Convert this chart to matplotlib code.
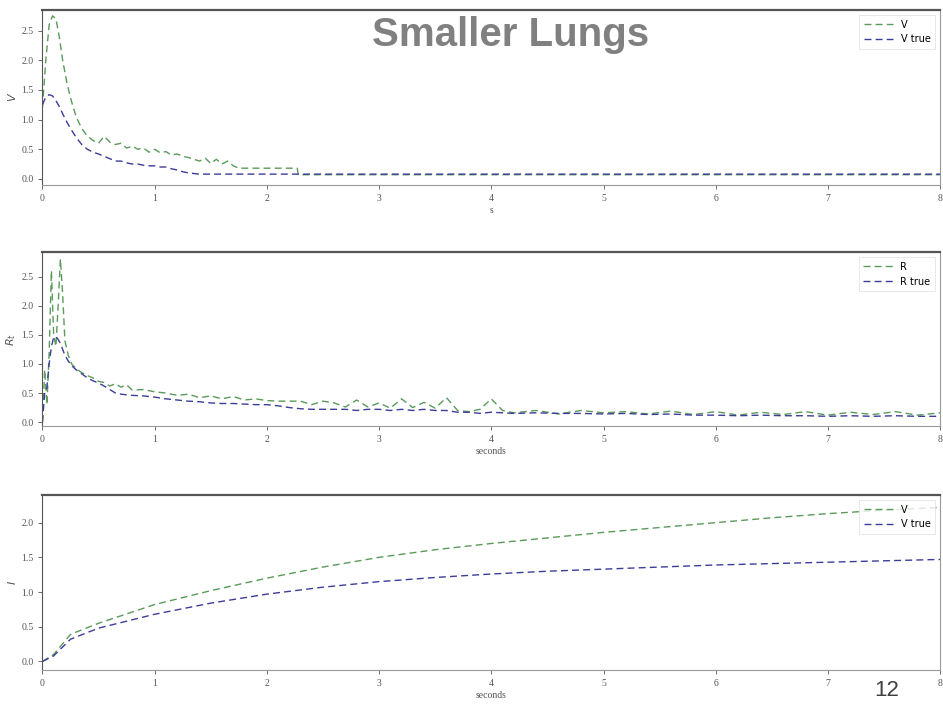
import numpy as np
import matplotlib.pyplot as plt

# panel 1 : V
t1 = [0, 0.03, 0.06, 0.09, 0.12, 0.15, 0.18, 0.22, 0.26, 0.3,
      0.35, 0.4, 0.45, 0.5, 0.55, 0.6, 0.65, 0.7, 0.75, 0.8,
      0.85, 0.9, 0.95, 1.0, 1.05, 1.1, 1.15, 1.2, 1.25, 1.3,
      1.4, 1.45, 1.5, 1.55, 1.6, 1.65, 1.7, 1.75, 2.27, 2.28,
      8.0]
v_est = [1.2, 2.0, 2.6, 2.75, 2.7, 2.4, 2.0, 1.6, 1.3, 1.05,
         0.85, 0.72, 0.65, 0.6, 0.72, 0.62, 0.58, 0.6, 0.52, 0.55,
         0.5, 0.52, 0.45, 0.5, 0.44, 0.46, 0.4, 0.42, 0.38, 0.36,
         0.3, 0.35, 0.26, 0.33, 0.25, 0.3, 0.22, 0.18, 0.18, 0.07,
         0.07]
v_true = [1.25, 1.38, 1.42, 1.4, 1.32, 1.22, 1.1, 0.95, 0.82, 0.7,
          0.58, 0.5, 0.45, 0.42, 0.38, 0.34, 0.3, 0.3, 0.27, 0.25,
          0.25, 0.23, 0.22, 0.22, 0.2, 0.2, 0.17, 0.15, 0.12, 0.1,
          0.08, 0.08, 0.08, 0.08, 0.08, 0.08, 0.08, 0.08, 0.08, 0.08,
          0.08]

# panel 2 : R
t2 = [0, 0.02, 0.04, 0.06, 0.08, 0.1, 0.12, 0.14, 0.16, 0.18,
      0.2, 0.23, 0.26, 0.3, 0.35, 0.4, 0.45, 0.5, 0.55, 0.6,
      0.65, 0.7, 0.75, 0.8, 0.9, 1.0, 1.1, 1.2, 1.3, 1.4,
      1.5, 1.6, 1.7, 1.8, 1.9, 2.0, 2.1, 2.2, 2.3, 2.4,
      2.5, 2.6, 2.7, 2.8, 2.9, 3.0, 3.1, 3.2, 3.3, 3.4,
      3.5, 3.6, 3.7, 3.8, 3.9, 4.0, 4.1, 4.2, 4.4, 4.6,
      4.8, 5.0, 5.2, 5.4, 5.6, 5.8, 6.0, 6.2, 6.4, 6.6,
      6.8, 7.0, 7.2, 7.4, 7.6, 7.8, 8.0]
r_est = [0.0, 0.9, 0.3, 1.2, 2.6, 1.5, 1.3, 2.0, 2.8, 2.2,
         1.4, 1.15, 1.0, 0.92, 0.85, 0.8, 0.76, 0.7, 0.68, 0.62,
         0.66, 0.6, 0.64, 0.55, 0.56, 0.52, 0.5, 0.46, 0.48, 0.42,
         0.45, 0.4, 0.44, 0.38, 0.4, 0.37, 0.36, 0.36, 0.36, 0.3,
         0.36, 0.33, 0.26, 0.38, 0.26, 0.33, 0.24, 0.4, 0.25, 0.34,
         0.24, 0.42, 0.2, 0.18, 0.22, 0.4, 0.2, 0.16, 0.2, 0.14,
         0.2, 0.16, 0.18, 0.14, 0.19, 0.13, 0.18, 0.12, 0.17, 0.13,
         0.18, 0.12, 0.17, 0.13, 0.18, 0.12, 0.16]
r_true = [0.0, 0.5, 0.6, 1.0, 1.3, 1.45, 1.47, 1.42, 1.35, 1.25,
          1.15, 1.05, 0.97, 0.9, 0.83, 0.76, 0.71, 0.67, 0.62, 0.56,
          0.5, 0.48, 0.47, 0.46, 0.45, 0.43, 0.4, 0.38, 0.36, 0.35,
          0.33, 0.32, 0.32, 0.31, 0.3, 0.3, 0.28, 0.25, 0.23, 0.22,
          0.22, 0.22, 0.22, 0.2, 0.22, 0.22, 0.2, 0.22, 0.2, 0.22,
          0.2, 0.2, 0.17, 0.17, 0.15, 0.17, 0.16, 0.15, 0.16, 0.15,
          0.15, 0.14, 0.15, 0.13, 0.14, 0.12, 0.12, 0.11, 0.12, 0.11,
          0.11, 0.1, 0.11, 0.1, 0.11, 0.1, 0.1]

# panel 3 : cumulative
t3 = [0, 0.1, 0.25, 0.5, 1, 1.5, 2, 2.5, 3, 3.5,
      4, 4.5, 5, 5.5, 6, 6.5, 7, 7.5, 8]
n_est = [0.0, 0.1, 0.39, 0.55, 0.82, 1.02, 1.2, 1.36, 1.5, 1.61,
         1.7, 1.78, 1.86, 1.93, 2.0, 2.07, 2.13, 2.18, 2.22]
n_true = [0.0, 0.08, 0.32, 0.48, 0.68, 0.84, 0.97, 1.07, 1.15, 1.21,
          1.26, 1.3, 1.33, 1.36, 1.39, 1.41, 1.43, 1.45, 1.47]

panels = [
    (t1, v_est, v_true, ["V", "V true"], "$V$", "s", (-0.1, 2.85), [0, 0.5, 1.0, 1.5, 2.0, 2.5]),
    (t2, r_est, r_true, ["R", "R true"], "$R_t$", "seconds", (-0.07, 2.92), [0, 0.5, 1.0, 1.5, 2.0, 2.5]),
    (t3, n_est, n_true, ["V", "V true"], "$I$", "seconds", (-0.12, 2.4), [0, 0.5, 1.0, 1.5, 2.0]),
]
boxes = [[0.045, 0.739, 0.952, 0.247],
         [0.045, 0.398, 0.952, 0.246],
         [0.045, 0.054, 0.952, 0.247]]

green = "#5a9a5a"
blue = "#3c3c9a"

fig = plt.figure(figsize=(9.43, 7.08), dpi=100)

for (t, est, true, labels, ylab, xlab, ylim, yt), box in zip(panels, boxes):
    ax = fig.add_axes(box)
    ax.plot(t, est, color=green, lw=1.0, ls=(0, (5, 3)), label=labels[0])
    ax.plot(t, true, color=blue, lw=1.0, ls=(0, (5, 3)), label=labels[1])
    ax.set_xlim(0, 8)
    ax.set_ylim(*ylim)
    ax.set_xticks(range(9))
    ax.set_yticks(yt)
    ax.set_yticklabels(["%.1f" % v for v in yt])
    ax.tick_params(labelsize=7, length=3, width=0.6, colors="#555555")
    for lbl in ax.get_xticklabels() + ax.get_yticklabels():
        lbl.set_family("Liberation Serif")
    for s in ax.spines.values():
        s.set_color("#999999")
        s.set_linewidth(0.8)
    ax.spines["top"].set_color("#555555")
    ax.spines["top"].set_linewidth(1.6)
    ax.spines["left"].set_color("#555555")
    ax.set_ylabel(ylab, fontsize=8, color="#555555", labelpad=2)
    ax.set_xlabel(xlab, fontsize=7, color="#555555", family="Liberation Serif", labelpad=2)
    leg = ax.legend(loc="upper right", fontsize=7, frameon=True, fancybox=False,
                    handlelength=3, borderpad=0.5)
    leg.get_frame().set_edgecolor("#dddddd")
    leg.get_frame().set_linewidth(0.6)

fig.text(0.541, 0.95, "Smaller Lungs", fontsize=29, fontweight="bold",
         color="#808080", family="Liberation Sans", ha="center", va="center")
fig.text(0.94, 0.025, "12", fontsize=16, color="#404040",
         family="Liberation Sans", ha="center", va="center")

fig.savefig("out.png", dpi=100)
